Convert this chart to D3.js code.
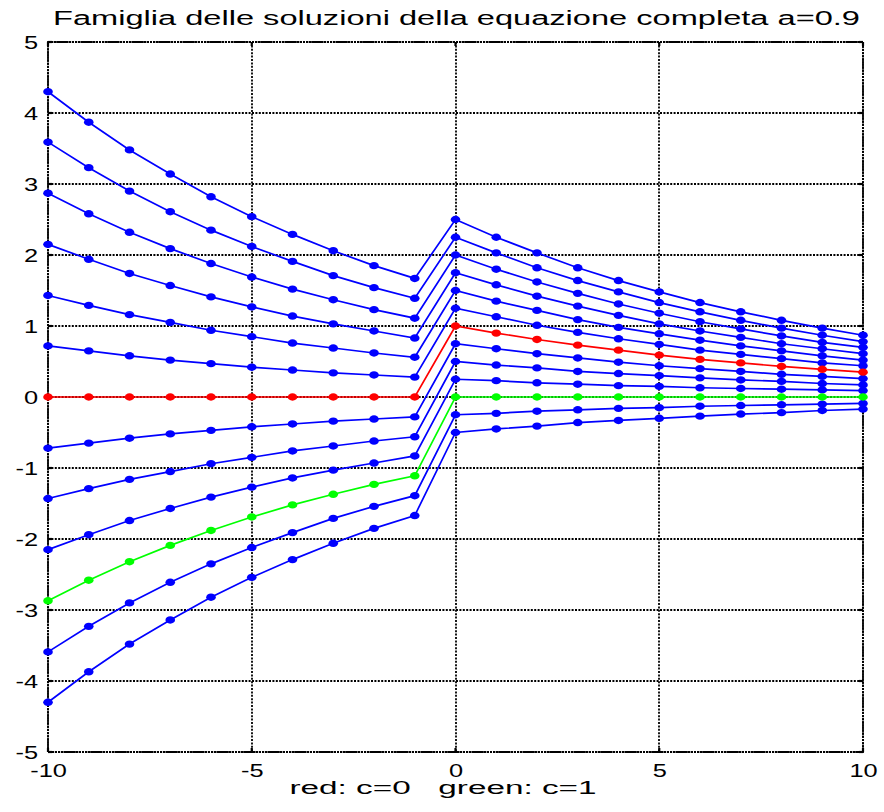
<!DOCTYPE html>
<html>
<head>
<meta charset="utf-8">
<script src="https://cdn.jsdelivr.net/npm/d3@7/dist/d3.min.js"></script>
<style>
  html, body { margin: 0; padding: 0; background: #fff; }
  svg { display: block; }
  text { font-family: "Liberation Sans", Arial, Helvetica, sans-serif; white-space: pre; }
</style>
</head>
<body>
<svg id="chart" width="884" height="812"></svg>
<script>
const titleText = "Famiglia delle soluzioni della equazione completa a=0.9";
const xLabelText = "red: c=0   green: c=1";
const nValues = [-10,-9,-8,-7,-6,-5,-4,-3,-2,-1,0,1,2,3,4,5,6,7,8,9,10];
const xTicks = [-10, -5, 0, 5, 10];
const yTicks = [-5, -4, -3, -2, -1, 0, 1, 2, 3, 4, 5];
const cValues = [-1.5, -1.25, -1, -0.75, -0.5, -0.25, 0, 0.25, 0.5, 0.75, 1, 1.25, 1.5];
const curveValues = [
  [4.30,3.87,3.48,3.14,2.82,2.54,2.29,2.06,1.85,1.67, 2.50,2.25,2.03,1.82,1.64,1.48,1.33,1.20,1.08,0.97,0.87],
  [3.59,3.23,2.90,2.61,2.35,2.12,1.91,1.71,1.54,1.39, 2.25,2.03,1.82,1.64,1.48,1.33,1.20,1.08,0.97,0.87,0.78],
  [2.87,2.58,2.32,2.09,1.88,1.69,1.52,1.37,1.23,1.11, 2.00,1.80,1.62,1.46,1.31,1.18,1.06,0.96,0.86,0.77,0.70],
  [2.15,1.94,1.74,1.57,1.41,1.27,1.14,1.03,0.93,0.83, 1.75,1.58,1.42,1.28,1.15,1.03,0.93,0.84,0.75,0.68,0.61],
  [1.43,1.29,1.16,1.05,0.94,0.85,0.76,0.69,0.62,0.56, 1.50,1.35,1.22,1.09,0.98,0.89,0.80,0.72,0.65,0.58,0.52],
  [0.72,0.65,0.58,0.52,0.47,0.42,0.38,0.34,0.31,0.28, 1.25,1.13,1.01,0.91,0.82,0.74,0.66,0.60,0.54,0.48,0.44],
  [0,0,0,0,0,0,0,0,0,0, 1.00,0.90,0.81,0.73,0.66,0.59,0.53,0.48,0.43,0.39,0.35],
  [-0.72,-0.65,-0.58,-0.52,-0.47,-0.42,-0.38,-0.34,-0.31,-0.28, 0.75,0.68,0.61,0.55,0.49,0.44,0.40,0.36,0.32,0.29,0.26],
  [-1.43,-1.29,-1.16,-1.05,-0.94,-0.85,-0.76,-0.69,-0.62,-0.56, 0.50,0.45,0.41,0.36,0.33,0.30,0.27,0.24,0.22,0.19,0.17],
  [-2.15,-1.94,-1.74,-1.57,-1.41,-1.27,-1.14,-1.03,-0.93,-0.83, 0.25,0.23,0.20,0.18,0.16,0.15,0.13,0.12,0.11,0.10,0.09],
  [-2.87,-2.58,-2.32,-2.09,-1.88,-1.69,-1.52,-1.37,-1.23,-1.11, 0,0,0,0,0,0,0,0,0,0,0],
  [-3.59,-3.23,-2.90,-2.61,-2.35,-2.12,-1.91,-1.71,-1.54,-1.39, -0.25,-0.23,-0.20,-0.18,-0.16,-0.15,-0.13,-0.12,-0.11,-0.10,-0.09],
  [-4.30,-3.87,-3.48,-3.14,-2.82,-2.54,-2.29,-2.06,-1.85,-1.67, -0.50,-0.45,-0.41,-0.36,-0.33,-0.30,-0.27,-0.24,-0.22,-0.19,-0.17]
];

const svg = d3.select("#chart");
const L = 48, R = 863, T = 42, B = 752;
const x = d3.scaleLinear().domain([-10, 10]).range([L, R]);
const y = d3.scaleLinear().domain([-5, 5]).range([B, T]);

function colorFor(c) { return c === 0 ? "#ff0000" : (c === 1 ? "#00ff00" : "#0000ff"); }
function stretch(sel, factor) {
  sel.each(function() {
    const len = this.getComputedTextLength();
    d3.select(this).attr("textLength", len * factor).attr("lengthAdjust", "spacingAndGlyphs");
  });
}

// grid (dotted black)
const grid = svg.append("g").attr("stroke", "#000").attr("stroke-width", 1.8).attr("stroke-dasharray", "2,1.4");
grid.selectAll("line.gx").data(xTicks).join("line")
  .attr("x1", d => Math.round(x(d))).attr("x2", d => Math.round(x(d))).attr("y1", T).attr("y2", B);
grid.selectAll("line.gy").data(yTicks).join("line")
  .attr("y1", d => Math.round(y(d))).attr("y2", d => Math.round(y(d))).attr("x1", L).attr("x2", R);

// frame
svg.append("rect").attr("x", L).attr("y", T).attr("width", R - L).attr("height", B - T)
  .attr("fill", "none").attr("stroke", "#000").attr("stroke-width", 1.8).attr("stroke-dasharray", "2,1");

// inside ticks
const tk = svg.append("g").attr("stroke", "#000").attr("stroke-width", 2.2);
xTicks.forEach(d => {
  tk.append("line").attr("x1", x(d)).attr("x2", x(d)).attr("y1", B).attr("y2", B - 4);
  tk.append("line").attr("x1", x(d)).attr("x2", x(d)).attr("y1", T).attr("y2", T + 4);
});
yTicks.forEach(d => {
  tk.append("line").attr("y1", y(d)).attr("y2", y(d)).attr("x1", L).attr("x2", L + 4);
  tk.append("line").attr("y1", y(d)).attr("y2", y(d)).attr("x1", R).attr("x2", R - 4);
});

// tick labels
const xAxis = svg.append("g").attr("transform", `translate(0,${B})`)
  .call(d3.axisBottom(x).tickValues(xTicks).tickSize(0).tickPadding(0).tickFormat(d => String(d)));
const yAxis = svg.append("g").attr("transform", `translate(${L},0)`)
  .call(d3.axisLeft(y).tickValues(yTicks).tickSize(0).tickPadding(10).tickFormat(d => String(d)));
[xAxis, yAxis].forEach(a => {
  a.select(".domain").remove();
  a.selectAll("text").attr("font-size", 17.5).attr("fill", "#000")
    .attr("font-family", "'Liberation Sans', Arial, sans-serif");
});
xAxis.selectAll("text").attr("y", 25).attr("dy", null);
yAxis.selectAll("text").attr("dy", "0.36em");
stretch(xAxis.selectAll("text"), 1.45);
stretch(yAxis.selectAll("text"), 1.45);

// curves (blue first, red and green on top)
const line = d3.line().x((d, i) => x(nValues[i])).y(d => y(d));
const order = cValues.map((c, i) => i).sort((a, b) => {
  const pa = (cValues[a] === 0 || cValues[a] === 1) ? 1 : 0;
  const pb = (cValues[b] === 0 || cValues[b] === 1) ? 1 : 0;
  return pa - pb;
});
order.forEach(i => {
  const c = cValues[i];
  const col = colorFor(c);
  const g = svg.append("g");
  g.append("path").datum(curveValues[i]).attr("d", line)
    .attr("fill", "none").attr("stroke", col).attr("stroke-width", 1.7);
  g.selectAll("ellipse").data(curveValues[i]).join("ellipse")
    .attr("cx", (d, k) => x(nValues[k])).attr("cy", d => y(d))
    .attr("rx", 4.8).attr("ry", 3.7)
    .attr("fill", col);
});

// title and xlabel
svg.append("text").attr("x", (L + R) / 2 + 1).attr("y", 25).attr("text-anchor", "middle")
  .attr("font-size", 19.5).attr("fill", "#000").text(titleText)
  .attr("textLength", 807).attr("lengthAdjust", "spacingAndGlyphs");
svg.append("text").attr("x", 443).attr("y", 794).attr("text-anchor", "middle")
  .attr("font-size", 17.5).attr("fill", "#000").text(xLabelText)
  .attr("textLength", 307).attr("lengthAdjust", "spacingAndGlyphs");
</script>
</body>
</html>
